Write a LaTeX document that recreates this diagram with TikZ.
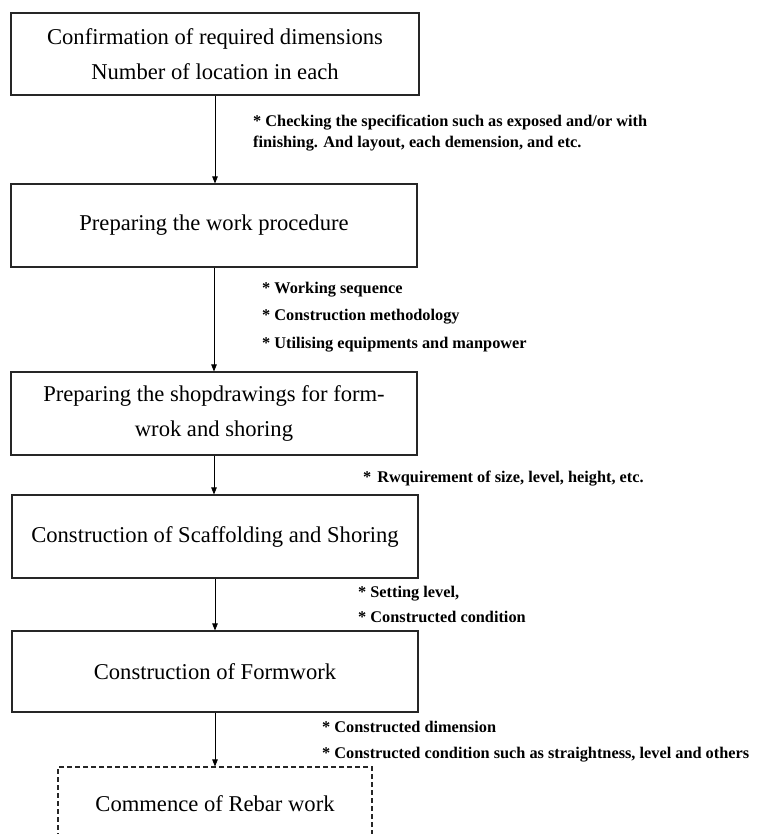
\documentclass[tikz,border=0pt]{standalone}
\usepackage{fontspec}
\setmainfont{Liberation Serif}
\usetikzlibrary{arrows.meta}
\begin{document}
\begin{tikzpicture}[x=1pt,y=-1pt,
  box/.style={draw=black!85, line width=1.1pt, inner sep=0pt, align=center,
              font=\fontsize{22.6}{35}\selectfont},
  note/.style={anchor=base west, inner sep=0pt, font=\bfseries\fontsize{16.3}{20}\selectfont},
  arr/.style={-{Triangle[length=7pt,width=5.5pt]}, line width=0.8pt}]
\clip (0,0) rectangle (758,834);
\fill[white] (0,0) rectangle (758,834);
% boxes
\node[box, minimum width=408pt, minimum height=82pt] (b1) at (215,54)
  {Confirmation of required dimensions\\Number of location in each};
\node[box, minimum width=406pt, minimum height=83pt] (b2) at (214,225.5)
  {Preparing the work procedure};
\node[box, minimum width=406pt, minimum height=83pt] (b3) at (214,413.5)
  {Preparing the shopdrawings for form-\\wrok and shoring};
\node[box, minimum width=406pt, minimum height=83pt] (b4) at (215,536.5)
  {Construction of Scaffolding and Shoring};
\node[box, minimum width=406pt, minimum height=81pt] (b5) at (215,671.5)
  {Construction of Formwork};
\node[box, dashed, dash pattern=on 5pt off 3pt, minimum width=314pt, minimum height=74pt] (b6) at (215,804)
  {Commence of Rebar work};
% connectors
\draw[arr] (b1.south) -- (b1.south |- b2.north);
\draw[arr] (b2.south) -- (b2.south |- b3.north);
\draw[arr] (b3.south) -- (b3.south |- b4.north);
\draw[arr] (b4.south) -- (b4.south |- b5.north);
\draw[arr] (b5.south) -- (b5.south |- b6.north);
% notes
\node[note] (n1a) at (253,127) {* Checking the specification such as exposed and/or with};
\node[note] (n1b) at (253,148) {finishing. And layout, each demension, and etc.};
\node[note] (n2a) at (262,293) {* Working sequence};
\node[note] (n2b) at (262,320) {* Construction methodology};
\node[note] (n2c) at (262,348) {* Utilising equipments and manpower};
\node[note] (n3a) at (363,482) {*\hspace{6pt}Rwquirement of size, level, height, etc.};
\node[note] (n4a) at (358,597) {* Setting level,};
\node[note] (n4b) at (358,622) {* Constructed condition};
\node[note] (n5a) at (322,732) {* Constructed dimension};
\node[note] (n5b) at (322,758) {* Constructed condition such as straightness, level and others};
\end{tikzpicture}
\end{document}
